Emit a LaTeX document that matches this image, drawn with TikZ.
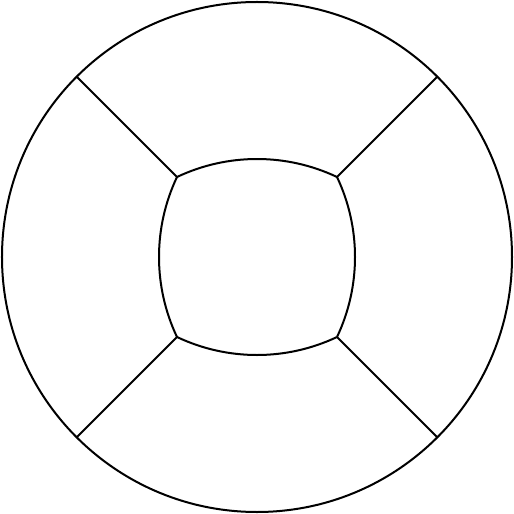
\documentclass[tikz,border=0pt]{standalone}
\begin{document}
\begin{tikzpicture}[x=1pt,y=1pt,line width=2pt,
  ringline/.style={draw=black,line width=2pt,line join=round}]
\useasboundingbox (-257,-257) rectangle (257,257);
% outer circle
\draw[ringline] (0,0) circle (255);
% inner corners
\coordinate (ne) at (80,80);
\coordinate (nw) at (-80,80);
\coordinate (sw) at (-80,-80);
\coordinate (se) at (80,-80);
\coordinate (one) at (45:255);
\coordinate (onw) at (135:255);
\coordinate (osw) at (225:255);
\coordinate (ose) at (315:255);
% inner curved square
\draw[ringline] (nw) arc[start angle=115.36,end angle=64.64,radius=186.8]
  arc[start angle=25.36,end angle=-25.36,radius=186.8]
  arc[start angle=-64.64,end angle=-115.36,radius=186.8]
  arc[start angle=205.36,end angle=154.64,radius=186.8] -- cycle;
% spokes
\draw[ringline] (ne) -- (one);
\draw[ringline] (nw) -- (onw);
\draw[ringline] (sw) -- (osw);
\draw[ringline] (se) -- (ose);
\end{tikzpicture}
\end{document}
